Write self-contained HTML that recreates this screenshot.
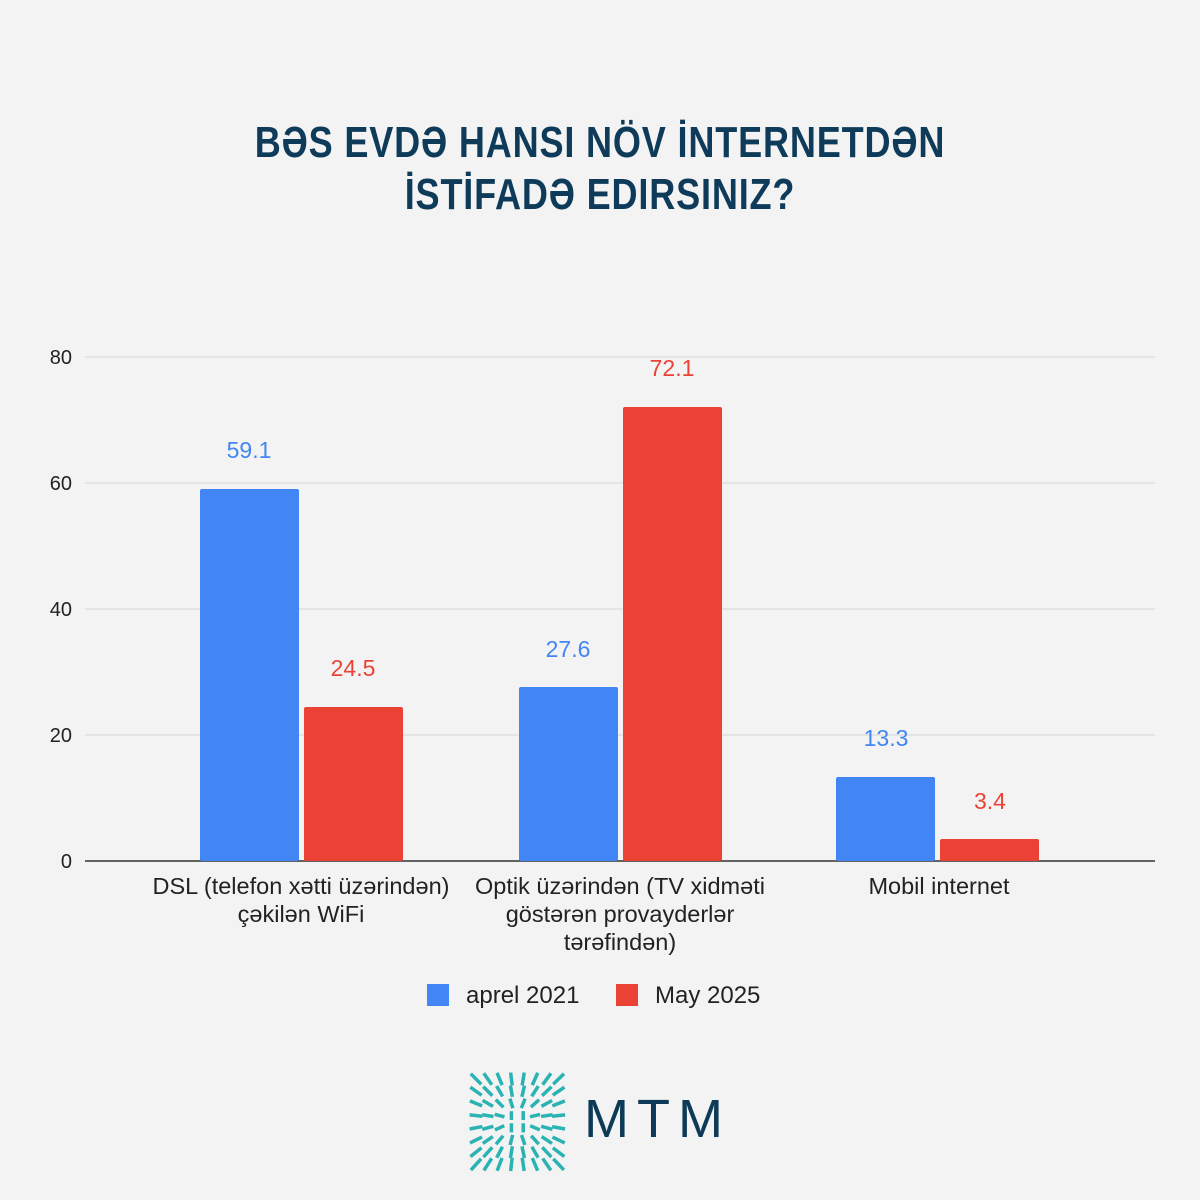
<!DOCTYPE html>
<html><head><meta charset="utf-8"><style>
body{margin:0;width:1200px;height:1200px;background:#f3f3f3;font-family:"Liberation Sans",sans-serif;overflow:hidden}
.t{position:absolute;left:0;width:1200px;text-align:center;color:#0f3b5a;font-family:"Liberation Sans Narrow","Liberation Sans",sans-serif;font-weight:bold;font-size:44px;letter-spacing:1px;transform:scaleX(0.82);transform-origin:600px 0}
</style></head><body>
<div class="t" style="top:118px">BƏS EVDƏ HANSI NÖV İNTERNETDƏN</div>
<div class="t" style="top:170px">İSTİFADƏ EDIRSINIZ?</div>
<svg width="1200" height="1200" style="position:absolute;left:0;top:0" font-family="Liberation Sans, sans-serif">
<g stroke="#d6d6d6" stroke-width="1">
<line x1="85" x2="1155" y1="357" y2="357"/><line x1="85" x2="1155" y1="483" y2="483"/><line x1="85" x2="1155" y1="609" y2="609"/><line x1="85" x2="1155" y1="735" y2="735"/></g>
<line x1="85" x2="1155" y1="861" y2="861" stroke="#333" stroke-width="1.5"/>
<g font-size="20" fill="#222" text-anchor="end"><text x="72" y="364">80</text><text x="72" y="490">60</text><text x="72" y="616">40</text><text x="72" y="742">20</text><text x="72" y="868">0</text></g>
<g>
<rect x="200" y="489" width="99" height="372" fill="#4285f4" rx="2"/>
<rect x="304" y="707" width="99" height="154" fill="#ea4335" rx="2"/>
<rect x="519" y="687" width="99" height="174" fill="#4285f4" rx="2"/>
<rect x="623" y="407" width="99" height="454" fill="#ea4335" rx="2"/>
<rect x="836" y="777" width="99" height="84" fill="#4285f4" rx="2"/>
<rect x="940" y="839" width="99" height="22" fill="#ea4335" rx="2"/>
</g>
<g font-size="23" text-anchor="middle">
<text x="249" y="458" fill="#4285f4">59.1</text><text x="353" y="676" fill="#ea4335">24.5</text>
<text x="568" y="657" fill="#4285f4">27.6</text><text x="672" y="376" fill="#ea4335">72.1</text>
<text x="886" y="746" fill="#4285f4">13.3</text><text x="990" y="809" fill="#ea4335">3.4</text>
</g>
<g font-size="23.5" fill="#222" text-anchor="middle">
<text x="301" y="894">DSL (telefon xətti üzərindən)</text><text x="301" y="922">çəkilən WiFi</text>
<text x="620" y="894">Optik üzərindən (TV xidməti</text><text x="620" y="922">göstərən provayderlər</text><text x="620" y="950">tərəfindən)</text>
<text x="939" y="894">Mobil internet</text>
</g>
<rect x="427" y="984" width="22" height="22" fill="#4285f4"/>
<text x="466" y="1003" font-size="24" fill="#222">aprel 2021</text>
<rect x="616" y="984" width="22" height="22" fill="#ea4335"/>
<text x="655" y="1003" font-size="24" fill="#222">May 2025</text>
<g id="logo" stroke="#2bb3b3" stroke-width="3.5" stroke-linecap="butt"></g>
<text x="584" y="1137" font-size="54" fill="#0d3b57" letter-spacing="8">MTM</text>
</svg>
<script>
var g=document.getElementById('logo'),s='';
for(var i=0;i<8;i++)for(var j=0;j<8;j++){
var cx=476+i*11.8,cy=1079+j*12.2,dx=cx-516.5,dy=cy-1120,d=Math.hypot(dx,dy)||1;
var L=4+d*0.06;var ux=dx/d,uy=dy/d;
if(Math.abs(dx)<8&&Math.abs(dy)<8){ux=0;uy=1;}
s+='<line x1="'+(cx-ux*L)+'" y1="'+(cy-uy*L)+'" x2="'+(cx+ux*L)+'" y2="'+(cy+uy*L)+'"/>';}
g.innerHTML=s;
</script>
</body></html>
